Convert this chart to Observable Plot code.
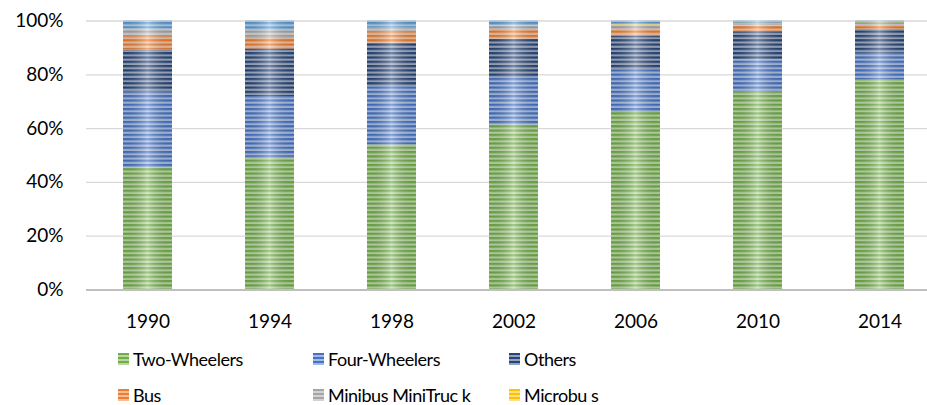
<!DOCTYPE html>
<html>
<head>
<meta charset="utf-8">
<script src="https://cdn.jsdelivr.net/npm/d3@7"></script>
<script src="https://cdn.jsdelivr.net/npm/@observablehq/plot@0.6"></script>
<style>
  body { margin: 0; background: white; font-family: Lato, "Open Sans", sans-serif; }
  #chart svg { display: block; overflow: hidden; }
  #legend { position: relative; height: 65px; font-size: 18px; letter-spacing: -0.45px; color: #000; }
  .item { position: absolute; display: flex; align-items: center; height: 30px; }
  .sw { width: 11px; height: 12px; margin-right: 4px; }
</style>
</head>
<body>
<div id="chart"></div>
<div id="legend"></div>
<script>
const years = ["1990", "1994", "1998", "2002", "2006", "2010", "2014"];
const series = ["Two-Wheelers", "Four-Wheelers", "Others", "Bus", "Minibus MiniTruc k", "Microbu s", "Unlabeled"];
const legendSeries = ["Two-Wheelers", "Four-Wheelers", "Others", "Bus", "Minibus MiniTruc k", "Microbu s"];
const colors = ["#70AD47", "#4472C4", "#264478", "#ED7D31", "#A5A5A5", "#FFC000", "#5B9BD5"];
const twoWheelers  = [45.4, 49.3, 53.9, 61.3, 66.0, 73.7, 78.0];
const fourWheelers = [28.2, 22.6, 21.7, 17.4, 15.8, 11.8, 10.0];
const others       = [15.6, 17.7, 16.1, 14.5, 12.6, 10.5,  8.9];
const bus          = [ 5.0,  4.3,  4.0,  3.7,  2.6,  2.1,  1.5];
const minibus      = [ 2.8,  2.5,  1.8,  1.2,  1.5,  0.8,  0.7];
const microbus     = [ 0.0,  0.0,  0.0,  0.1,  0.3,  0.3,  0.2];
const unlabeled    = [ 3.0,  3.6,  2.5,  1.8,  1.2,  0.8,  0.7];
const yTicks = [0, 0.2, 0.4, 0.6, 0.8, 1.0];

const valuesBySeries = [twoWheelers, fourWheelers, others, bus, minibus, microbus, unlabeled];
const data = [];
series.forEach((s, i) => years.forEach((y, j) => data.push({year: y, series: s, value: valuesBySeries[i][j]})));

const patternIds = series.map((s, i) => `pat${i}`);
const urls = patternIds.map(id => `url(#${id})`);

function lighten(c, t) {
  const a = d3.rgb(c);
  return d3.rgb(a.r + (255 - a.r) * t, a.g + (255 - a.g) * t, a.b + (255 - a.b) * t).formatHex();
}

const stack = {x: "year", y: "value", z: "series", order: series, offset: "normalize"};

const svg = Plot.plot({
  width: 927,
  height: 340,
  marginTop: 20.5,
  marginBottom: 50.5,
  marginLeft: 86,
  marginRight: 0,
  style: {fontFamily: "Lato, 'Open Sans', sans-serif", fontSize: "19px", color: "#000", background: "white"},
  x: {domain: years, range: [86, 940], paddingInner: 0.6, paddingOuter: 0.3, label: null, tickSize: 0, tickPadding: 24},
  y: {domain: [0, 1], ticks: yTicks, tickFormat: d => Math.round(d * 100) + "%", label: null, tickSize: 0, tickPadding: 23},
  color: {domain: series, range: urls, type: "ordinal"},
  marks: [
    Plot.gridY(yTicks.filter(d => d > 0), {stroke: "#d9d9d9", strokeOpacity: 1, strokeWidth: 1.3}),
    Plot.barY(data, Plot.stackY({...stack, fill: "series"})),
    Plot.barY(data, Plot.stackY({...stack, fill: "url(#shine)"})),
    Plot.ruleY([0], {stroke: "#bfbfbf", strokeWidth: 2.2})
  ]
});

const defs = d3.select(svg).insert("defs", ":first-child");
const grad = defs.append("linearGradient").attr("id", "shine").attr("x1", 0).attr("x2", 1).attr("y1", 0).attr("y2", 0);
grad.append("stop").attr("offset", 0).attr("stop-color", "#000").attr("stop-opacity", 0.08);
grad.append("stop").attr("offset", 0.5).attr("stop-color", "#fff").attr("stop-opacity", 0.35);
grad.append("stop").attr("offset", 1).attr("stop-color", "#000").attr("stop-opacity", 0.08);
series.forEach((s, i) => {
  const p = defs.append("pattern").attr("id", patternIds[i]).attr("patternUnits", "userSpaceOnUse")
    .attr("width", 10).attr("height", 4.3).attr("y", 0.5);
  p.append("rect").attr("width", 10).attr("height", 4.3).attr("fill", lighten(colors[i], 0.55));
  p.append("rect").attr("width", 10).attr("height", 2.2).attr("fill", colors[i]);
});

document.getElementById("chart").appendChild(svg);

const legend = document.getElementById("legend");
const colX = [118, 313, 509];
const rowY = [4, 40];
legendSeries.forEach((s, i) => {
  const c = colors[series.indexOf(s)];
  const item = document.createElement("div");
  item.className = "item";
  item.style.left = colX[i % 3] + "px";
  item.style.top = rowY[Math.floor(i / 3)] + "px";
  const sw = document.createElement("div");
  sw.className = "sw";
  sw.style.background = `repeating-linear-gradient(to bottom, ${c} 0px, ${c} 2px, ${lighten(c, 0.5)} 2px, ${lighten(c, 0.5)} 4px)`;
  const t = document.createElement("span");
  t.textContent = s;
  item.appendChild(sw);
  item.appendChild(t);
  legend.appendChild(item);
});
</script>
</body>
</html>
